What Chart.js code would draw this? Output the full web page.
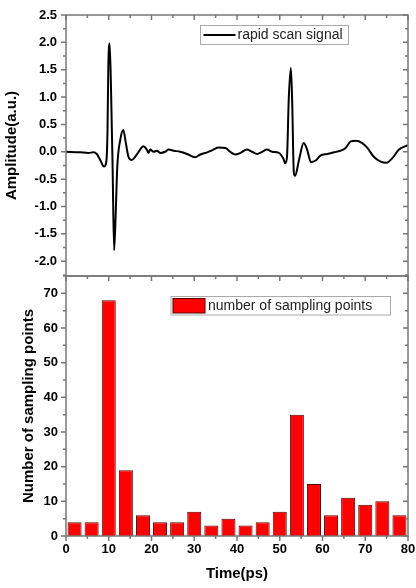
<!DOCTYPE html>
<html>
<head>
<meta charset="utf-8">
<script src="https://cdn.jsdelivr.net/npm/chart.js@4.4.1/dist/chart.umd.min.js"></script>
<style>
  html, body { margin: 0; padding: 0; background: #fff; }
  #wrap { position: relative; width: 416px; height: 588px; overflow: hidden; background: #fff; }
  canvas { position: absolute; left: 0; }
  #signal { top: 0; }
  #points { top: 270px; }
</style>
</head>
<body>
<div id="wrap">
  <canvas id="signal" width="416" height="277"></canvas>
  <canvas id="points" width="416" height="318"></canvas>
</div>
<script>
// upper panel: rapid scan waveform
const signalTime = [0, 3.3, 5.2, 6.4, 7.2, 8.0, 8.9, 9.4, 9.7, 9.9,
  10.2, 10.5, 10.9, 11.25, 11.6, 12.0, 12.7, 13.4, 14.0, 14.6,
  15.4, 16.2, 17.0, 18.1, 18.9, 19.3, 19.7, 20.5, 21.3, 22.0,
  23.2, 24.0, 25.2, 26.7, 28.3, 30.2, 31.4, 33.0, 34.5, 35.7,
  37.3, 38.4, 39.6, 40.8, 42.3, 43.5, 44.7, 45.9, 47.0, 48.2,
  49.8, 50.8, 51.3, 51.7, 52.1, 52.6, 52.9, 53.3, 53.6, 54.5,
  55.6, 56.4, 57.3, 58.4, 59.5, 61.1, 62.7, 64.2, 65.4, 66.6,
  67.7, 69.3, 70.5, 72.0, 73.6, 75.0, 76.3, 77.9, 80.0];
const signalAmp = [0.0, -0.01, -0.02, -0.01, -0.04, -0.15, -0.27, -0.2, 0.35, 1.56,
  1.98, 1.26, -0.27, -1.8, -1.19, -0.27, 0.22, 0.4, 0.16, -0.09,
  -0.15, -0.09, 0.0, 0.1, 0.04, -0.02, 0.04, 0.0, 0.02, -0.02,
  0.0, 0.04, 0.02, 0.0, -0.04, -0.1, -0.05, -0.01, 0.04, 0.08,
  0.07, 0.0, -0.05, -0.02, 0.04, 0.0, -0.04, 0.0, 0.04, 0.0,
  -0.02, -0.12, -0.21, -0.09, 0.95, 1.53, 0.95, -0.39, -0.44, -0.15,
  0.16, 0.04, -0.19, -0.16, -0.07, -0.04, -0.01, 0.02, 0.07, 0.19,
  0.2, 0.16, 0.07, -0.09, -0.18, -0.2, -0.12, 0.04, 0.12];

// lower panel: histogram, bin centres (ps) and counts
const binCentres = [2, 6, 10, 14, 18, 22, 26, 30, 34, 38, 42, 46, 50, 54, 58, 62, 66, 70, 74, 78];
const binCounts = [4, 4, 68, 19, 6, 4, 4, 7, 3, 5, 3, 4, 7, 35, 15, 6, 11, 9, 10, 6];

const timeTicks = [0, 10, 20, 30, 40, 50, 60, 70, 80];
const ampTicks = [-2.0, -1.5, -1.0, -0.5, 0.0, 0.5, 1.0, 1.5, 2.0, 2.5];
const countTicks = [0, 10, 20, 30, 40, 50, 60, 70];

Chart.defaults.font.family = "'Liberation Sans', Arial, sans-serif";
Chart.defaults.color = "#000";
Chart.defaults.animation = false;

const tickFont = { size: 13, weight: "bold" };
const titleFont = { size: 15, weight: "bold", lineHeight: 1.2 };

function useTicks(values) {
  return (scale) => { scale.ticks = values.map((v) => ({ value: v })); };
}

// fixed box size, and no extra room for half labels at the ends
function fixSize(w, h) {
  return (s) => {
    if (w !== null) s.width = w;
    if (h !== null) s.height = h;
    s.paddingTop = 0; s.paddingBottom = 0;
    s.paddingLeft = 0; s.paddingRight = 0;
  };
}

function minorValues(scale) {
  const v = scale.ticks.map((t) => t.value);
  const step = v[1] - v[0];
  const out = v.map((m) => m + step / 2);
  out.push(v[0] - step / 2);
  return out.filter((m) => m >= scale.min - 1e-9 && m <= scale.max + 1e-9);
}

// frame, Origin-style ticks and the in-plot legend
const frame = {
  id: "frame",
  afterDatasetsDraw(chart, args, opts) {
    const { ctx, chartArea: a } = chart;
    const xs = chart.scales.x, ys = chart.scales.y;
    ctx.save();
    ctx.strokeStyle = "#777";
    ctx.lineWidth = 1.5;
    ctx.strokeRect(a.left, a.top, a.right - a.left, a.bottom - a.top);

    ctx.beginPath();
    const yMarks = (vals, len) => vals.forEach((v) => {
      const p = ys.getPixelForValue(v);
      ctx.moveTo(a.left - len, p); ctx.lineTo(a.left, p);
      ctx.moveTo(a.right - len, p); ctx.lineTo(a.right, p);
    });
    const xMarks = (vals, len) => vals.forEach((v) => {
      const p = xs.getPixelForValue(v);
      ctx.moveTo(p, a.top); ctx.lineTo(p, a.top + len);
      if (opts.bottomTicks) { ctx.moveTo(p, a.bottom); ctx.lineTo(p, a.bottom + len); }
    });
    yMarks(ys.ticks.map((t) => t.value), 5);
    yMarks(minorValues(ys), 3);
    xMarks(xs.ticks.map((t) => t.value), 5);
    xMarks(minorValues(xs), 3);
    ctx.stroke();

    const L = opts.legend;
    const ds = chart.data.datasets[0];
    ctx.lineWidth = 1;
    ctx.strokeStyle = "#aaa";
    ctx.fillStyle = "#fff";
    ctx.fillRect(L.x, L.y, L.w, L.h);
    ctx.strokeRect(L.x, L.y, L.w, L.h);
    const mid = L.y + L.h / 2;
    if (L.kind === "line") {
      ctx.strokeStyle = ds.borderColor;
      ctx.lineWidth = 2;
      ctx.beginPath();
      ctx.moveTo(L.x + 3, mid); ctx.lineTo(L.x + 35, mid);
      ctx.stroke();
    } else {
      ctx.fillStyle = ds.backgroundColor;
      ctx.fillRect(L.x + 2, L.y + 2, 32, L.h - 4);
      ctx.strokeStyle = ds.borderColor;
      ctx.strokeRect(L.x + 2, L.y + 2, 32, L.h - 4);
    }
    ctx.fillStyle = "#222";
    ctx.font = "14px 'Liberation Sans', Arial, sans-serif";
    ctx.textBaseline = "middle";
    ctx.fillText(ds.label, L.x + 37, mid + 0.5);
    ctx.restore();
  }
};

new Chart(document.getElementById("signal"), {
  type: "line",
  data: {
    datasets: [{
      label: "rapid scan signal",
      data: signalTime.map((t, i) => ({ x: t, y: signalAmp[i] })),
      borderColor: "#000",
      borderWidth: 2,
      pointRadius: 0,
      cubicInterpolationMode: "monotone",
      borderJoinStyle: "round",
    }],
  },
  options: {
    responsive: false,
    layout: { padding: { left: 0, right: 8, top: 15, bottom: 1 } },
    plugins: {
      legend: { display: false },
      tooltip: { enabled: false },
      frame: { legend: { x: 200.5, y: 25.5, w: 148, h: 19, kind: "line" }, bottomTicks: false },
    },
    scales: {
      x: {
        type: "linear", min: 0, max: 80,
        grid: { display: false, drawTicks: false },
        border: { display: false },
        ticks: { display: false },
        afterBuildTicks: useTicks(timeTicks),
        afterFit: fixSize(null, 0),
      },
      y: {
        min: -2.27, max: 2.5,
        grid: { display: false, drawTicks: false },
        border: { display: false },
        ticks: { font: tickFont, padding: 9, callback: (v) => v.toFixed(1) },
        afterBuildTicks: useTicks(ampTicks),
        afterFit: fixSize(66, null),
        title: { display: true, text: "Amplitude(a.u.)", font: titleFont, padding: { top: 3, bottom: 0 } },
      },
    },
  },
  plugins: [frame],
});

new Chart(document.getElementById("points"), {
  type: "bar",
  data: {
    datasets: [{
      label: "number of sampling points",
      data: binCentres.map((c, i) => ({ x: c, y: binCounts[i] })),
      backgroundColor: "#ff0000",
      borderColor: "#5a0000",
      borderWidth: 1,
      barPercentage: 0.82,
      categoryPercentage: 1,
    }],
  },
  options: {
    responsive: false,
    layout: { padding: { left: 0, right: 8, top: 6, bottom: 0 } },
    plugins: {
      legend: { display: false },
      tooltip: { enabled: false },
      frame: { legend: { x: 171, y: 26.5, w: 219.5, h: 18.5, kind: "box" }, bottomTicks: true },
    },
    scales: {
      x: {
        type: "linear", min: 0, max: 80, offset: false,
        grid: { display: false, drawTicks: false, offset: false },
        border: { display: false },
        ticks: { font: tickFont, padding: 6, maxRotation: 0 },
        afterBuildTicks: useTicks(timeTicks),
        afterFit: fixSize(null, 52),
        title: { display: true, text: "Time(ps)", font: titleFont, padding: { top: 0, bottom: 5 } },
      },
      y: {
        min: 0, max: 75,
        grid: { display: false, drawTicks: false },
        border: { display: false },
        ticks: { font: tickFont, padding: 8 },
        afterBuildTicks: useTicks(countTicks),
        afterFit: fixSize(66, null),
        title: { display: true, text: "Number of sampling points", font: titleFont, padding: { top: 20, bottom: 0 } },
      },
    },
  },
  plugins: [frame],
});
</script>
</body>
</html>
